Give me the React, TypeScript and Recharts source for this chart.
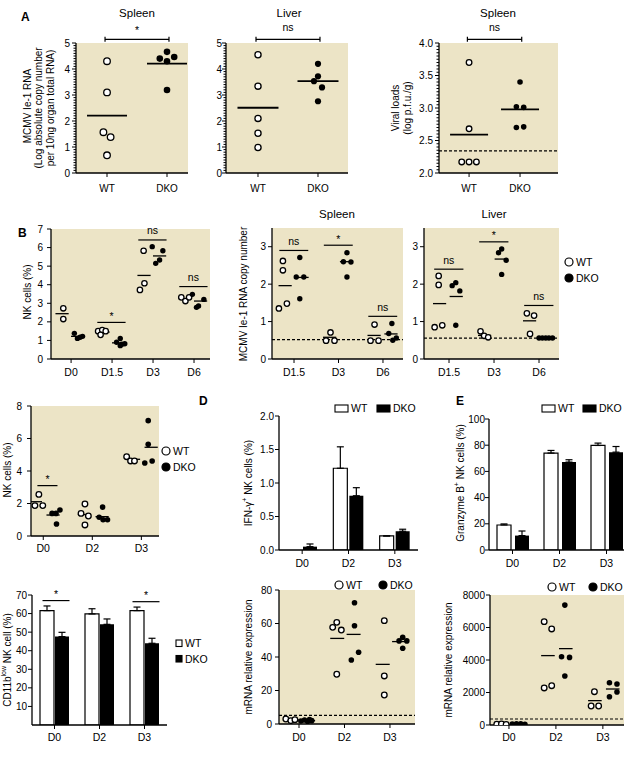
import React from "react";
import {
  ScatterChart,
  Scatter,
  BarChart,
  Bar,
  ErrorBar,
  XAxis,
  YAxis,
  CartesianGrid,
  ReferenceLine,
  ReferenceDot,
} from "recharts";

const FONT = '"Liberation Sans", Arial, Helvetica, sans-serif';
const BEIGE = "#ece4c6";
const INK = "#000";

// ---------- A: ie-1 RNA and viral loads, WT vs DKO ----------
const genotypes = ["WT", "DKO"];

const spleenIe1Wt = [4.3, 3.1, 1.57, 1.38, 0.68];
const spleenIe1WtDx = [0, 0, -0.06, 0.06, 0];
const spleenIe1Dko = [4.66, 4.4, 4.46, 4.3, 3.19];
const spleenIe1DkoDx = [0, -0.12, 0.12, 0, 0];
const spleenIe1Means = [2.21, 4.21];

const liverIe1Wt = [4.55, 3.34, 2.1, 1.53, 0.98];
const liverIe1WtDx = [0, 0, 0, 0, 0];
const liverIe1Dko = [4.2, 3.72, 3.53, 3.29, 2.76];
const liverIe1DkoDx = [0, 0, -0.067, 0.067, 0];
const liverIe1Means = [2.51, 3.53];

const spleenPfuWt = [3.7, 2.68, 2.17, 2.17, 2.17];
const spleenPfuWtDx = [0, 0, -0.144, 0, 0.144];
const spleenPfuDko = [3.4, 3.02, 3.01, 2.7, 2.71];
const spleenPfuDkoDx = [0, -0.072, 0.072, -0.072, 0.072];
const spleenPfuMeans = [2.59, 2.98];
const spleenPfuLimit = 2.34;

// ---------- B: NK cells and ie-1 RNA over time ----------
const nkDays = ["D0", "D1.5", "D3", "D6"];
const nkWt = [[2.73, 2.15], [1.5, 1.56, 1.3, 1.5], [5.83, 4.08, 3.72], [3.32, 3.12, 3.32]];
const nkWtDx = [[-0.19, -0.19], [-0.34, -0.24, -0.28, -0.155], [-0.23, -0.21, -0.32], [-0.31, -0.21, -0.12]];
const nkDko = [[1.38, 1.11, 1.17, 1.22], [1.1, 0.9, 0.72, 0.82, 0.8], [6.05, 5.83, 5.33, 5.15], [3.48, 3.21, 2.85, 2.78]];
const nkDkoDx = [[0.08, 0.155, 0.22, 0.28], [0.2, 0.11, 0.2, 0.31, 0.24], [-0.02, 0.24, 0.16, 0.065], [-0.04, 0.24, 0.11, 0.06]];
const nkWtMean = [2.44, 1.45, 4.5, 3.25];
const nkDkoMean = [1.22, 0.87, 5.55, 3.12];
const nkSigY = [null, 1.97, 6.41, 3.9];
const nkSigText = ["", "*", "ns", "ns"];

const ie1Days = ["D1.5", "D3", "D6"];
const spleenTimeWt = [[2.62, 2.37, 1.48, 1.35], [0.71, 0.49, 0.49], [0.92, 0.49, 0.49]];
const spleenTimeWtDx = [[-0.25, -0.25, -0.16, -0.34], [-0.18, -0.28, -0.09], [-0.19, -0.28, -0.1]];
const spleenTimeDko = [[2.71, 2.19, 2.19, 1.61], [2.84, 2.6, 2.59, 2.19], [0.95, 0.68, 0.5, 0.56]];
const spleenTimeDkoDx = [[0.13, 0.05, 0.22, 0.13], [0.19, 0.11, 0.28, 0.19], [0.2, 0.13, 0.22, 0.3]];
const spleenTimeWtMean = [1.96, 0.58, 0.63];
const spleenTimeDkoMean = [2.18, 2.6, 0.67];
const spleenTimeSigY = [2.9, 3.04, 1.14];
const spleenTimeSigText = ["ns", "*", "ns"];
const spleenTimeLimit = 0.52;

const liverTimeWt = [[2.22, 1.98, 0.9, 0.85], [0.74, 0.62, 0.58], [1.22, 1.16, 0.67]];
const liverTimeWtDx = [[-0.23, -0.23, -0.15, -0.32], [-0.3, -0.22, -0.13], [-0.27, -0.11, -0.2]];
const liverTimeDko = [[2.04, 1.96, 1.82, 0.9], [2.94, 2.84, 2.64, 2.26], [0.56, 0.56, 0.56, 0.56, 0.56]];
const liverTimeDkoDx = [[0.15, 0.07, 0.24, 0.15], [0.17, 0.1, 0.27, 0.17], [0, 0.074, 0.15, 0.22, 0.3]];
const liverTimeWtMean = [1.48, 0.63, 1.02];
const liverTimeDkoMean = [1.67, 2.67, 0.56];
const liverTimeSigY = [2.4, 3.13, 1.43];
const liverTimeSigText = ["ns", "*", "ns"];
const liverTimeLimit = 0.56;

// ---------- C: NK cells and CD11b-low fraction ----------
const days3 = ["D0", "D2", "D3"];
const nk2Wt = [[2.56, 1.87, 1.87], [1.97, 1.39, 1.23, 0.68], [4.88, 4.62, 4.62]];
const nk2WtDx = [[-0.09, -0.17, -0.01], [-0.15, -0.23, -0.08, -0.15], [-0.3, -0.22, -0.14]];
const nk2Dko = [[1.6, 1.39, 1.39, 0.74], [1.78, 1.15, 1.0, 1.0], [7.1, 5.64, 4.49, 4.62]];
const nk2DkoDx = [[0.34, 0.18, 0.26, 0.27], [0.21, 0.14, 0.22, 0.31], [0.14, 0.14, 0.07, 0.22]];
const nk2WtMean = [2.11, 1.32, 4.72];
const nk2DkoMean = [1.29, 1.19, 5.46];
const nk2SigY = [3.1, null, null];
const nk2SigText = ["*", "", ""];

const cd11bWt = [61.6, 59.8, 61.6];
const cd11bWtErr = [2.5, 2.8, 1.9];
const cd11bDko = [47.6, 54.2, 44.0];
const cd11bDkoErr = [2.3, 2.9, 2.7];
const cd11bSigY = [67, null, 66.4];
const cd11bSigText = ["*", "", "*"];

// ---------- D: IFN-gamma ----------
const ifngWt = [0, 1.22, 0.21];
const ifngWtErr = [0, 0.32, 0];
const ifngDko = [0.05, 0.81, 0.28];
const ifngDkoErr = [0.04, 0.12, 0.03];

const ifngMrnaWt = [[2.98, 2.0, 2.6], [57.7, 60.7, 56.1, 29.7], [61.7, 28.7, 17.3]];
const ifngMrnaWtDx = [[-0.29, -0.18, -0.09], [-0.26, -0.17, -0.07, -0.17], [-0.125, -0.125, -0.125]];
const ifngMrnaDko = [[1.8, 2.4, 1.5, 2.0, 2.6], [72.4, 58.7, 42.8, 38.2], [51.7, 49.6, 49.6, 45.2]];
const ifngMrnaDkoDx = [[0.04, 0.12, 0.19, 0.28, 0.23], [0.22, 0.22, 0.31, 0.15], [0.28, 0.2, 0.37, 0.28]];
const ifngMrnaWtMean = [2.5, 51.1, 35.6];
const ifngMrnaDkoMean = [2.0, 53.5, 49.2];
const ifngMrnaLimit = 5.2;

// ---------- E: Granzyme B ----------
const gzmbWt = [19.1, 74, 79.8];
const gzmbWtErr = [0.8, 2, 1.8];
const gzmbDko = [11, 67.1, 74.7];
const gzmbDkoErr = [3.5, 1.8, 4.3];

const gzmbMrnaWt = [[50, 60, 40], [6360, 5910, 2280, 2420], [2050, 1170, 1170]];
const gzmbMrnaWtDx = [[-0.26, -0.16, -0.06], [-0.25, -0.09, -0.25, -0.09], [-0.18, -0.25, -0.09]];
const gzmbMrnaDko = [[60, 80, 70, 50], [7380, 4200, 4160, 3020], [2600, 2520, 1740, 2030]];
const gzmbMrnaDkoDx = [[0.07, 0.16, 0.25, 0.34], [0.19, 0.12, 0.29, 0.19], [0.14, 0.3, 0.14, 0.3]];
const gzmbMrnaWtMean = [50, 4270, 1500];
const gzmbMrnaDkoMean = [65, 4700, 2215];
const gzmbMrnaLimit = 370;

// ---------- helpers ----------
const Y_AXIS_W = 44;
const X_AXIS_H = 28;
const TOP_ROOM = 48;
const RIGHT_ROOM = 8;
const MARGIN = { top: TOP_ROOM, right: RIGHT_ROOM, bottom: 0, left: 0 };

type Plot = { x0: number; x1: number; y0: number; y1: number };
type Pt = { x: number; y: number };
type Bracket = { x0: number; x1: number; y: number; text: string };

const frameStyle = (p: Plot): React.CSSProperties => ({
  position: "absolute",
  left: p.x0 - Y_AXIS_W,
  top: p.y0 - TOP_ROOM,
});
const chartW = (p: Plot) => p.x1 - p.x0 + Y_AXIS_W + RIGHT_ROOM;
const chartH = (p: Plot) => p.y1 - p.y0 + TOP_ROOM + X_AXIS_H;

const range = (lo: number, hi: number, n: number) =>
  Array.from({ length: n + 1 }, (_, i) => lo + ((hi - lo) * i) / n);

function axisTicks(major: number[], minor: number[] = []) {
  const extra = minor.filter((m) => !major.some((v) => Math.abs(v - m) < 1e-6));
  return [...major, ...extra].sort((a, b) => a - b);
}

function yTick(major: number[], fmt: (v: number) => string, gap: number, size: number) {
  return function Tick(props: any) {
    const { x, y, payload } = props;
    const v = payload.value;
    const isMajor = major.some((m) => Math.abs(m - v) < 1e-6);
    return (
      <g>
        <line x1={x - (isMajor ? 4 : 2.5)} x2={x} y1={y} y2={y} stroke={INK} strokeWidth={1} />
        {isMajor && (
          <text x={x - gap} y={y} dy="0.35em" textAnchor="end" fontSize={size} fill={INK}>
            {fmt(v)}
          </text>
        )}
      </g>
    );
  };
}

// each group sits at category index + its own horizontal jitter
function placeGroups(values: number[][], dx: number[][]): Pt[] {
  return values.flatMap((vs, i) => vs.map((v, j) => ({ x: i + 1 + dx[i][j], y: v })));
}
function placeAt(cat: number, values: number[], dx: number[]): Pt[] {
  return values.map((v, j) => ({ x: cat + dx[j], y: v }));
}
function placeMeans(means: number[], shift: number): Pt[] {
  return means.map((m, i) => ({ x: i + 1 + shift, y: m }));
}
function sigBrackets(ys: (number | null)[], texts: string[], span: [number, number]): Bracket[] {
  const out: Bracket[] = [];
  ys.forEach((y, i) => {
    if (y !== null) out.push({ x0: i + 1 + span[0], x1: i + 1 + span[1], y, text: texts[i] });
  });
  return out;
}

const sigOffset = (text: string, base: number) => (text === "*" ? base - 3 : base);

function bracketLines(list: Bracket[], base: number, cap: number) {
  return list.flatMap((b, i) => {
    const els = [
      <ReferenceLine
        key={`br${i}`}
        segment={[{ x: b.x0, y: b.y }, { x: b.x1, y: b.y }]}
        stroke={INK}
        strokeWidth={1.2}
        ifOverflow="visible"
        label={{ value: b.text, position: "top", offset: sigOffset(b.text, base), fontSize: 10.5, fill: INK }}
      />,
    ];
    if (cap > 0) {
      [b.x0, b.x1].forEach((cx, k) =>
        els.push(
          <ReferenceLine
            key={`cap${i}-${k}`}
            segment={[{ x: cx, y: b.y - cap }, { x: cx, y: b.y + cap }]}
            stroke={INK}
            strokeWidth={1.2}
            ifOverflow="visible"
          />
        )
      );
    }
    return els;
  });
}

// bar charts: the bracket hangs off the category centre, spans given in px
const barBracket = (left: number, right: number, text: string) => (p: any) => (
  <g>
    <line x1={p.cx + left} x2={p.cx + right} y1={p.cy} y2={p.cy} stroke={INK} strokeWidth={1.2} />
    <text
      x={p.cx + (left + right) / 2}
      y={p.cy - sigOffset(text, 5.5)}
      textAnchor="middle"
      fontSize={10.5}
      fill={INK}
    >
      {text}
    </text>
  </g>
);

const openDot = (r: number) => (p: any) =>
  <circle cx={p.cx} cy={p.cy} r={r} fill="#fff" stroke={INK} strokeWidth={1.3} />;
const solidDot = (r: number) => (p: any) => <circle cx={p.cx} cy={p.cy} r={r} fill={INK} />;
const meanTick = (half: number, sw: number) => (p: any) =>
  <line x1={p.cx - half} x2={p.cx + half} y1={p.cy} y2={p.cy} stroke={INK} strokeWidth={sw} />;

type DotPanelProps = {
  plot: Plot;
  xDomain: [number, number];
  cats: string[];
  catSize: number;
  xPad: number;
  yDomain: [number, number];
  yMajor: number[];
  yMinor?: number[];
  yFmt?: (v: number) => string;
  yGap: number;
  wt: Pt[];
  dko: Pt[];
  means: Pt[];
  meanHalf: number;
  meanStroke: number;
  r: number;
  brackets: Bracket[];
  labelBase: number;
  cap: number;
  limit?: number;
};

function DotPanel(props: DotPanelProps) {
  const { plot, xDomain, cats, catSize, xPad, yDomain, yMajor, yMinor, yGap } = props;
  const fmt = props.yFmt ?? ((v: number) => String(v));
  return (
    <div style={frameStyle(plot)}>
      <ScatterChart width={chartW(plot)} height={chartH(plot)} margin={MARGIN}>
        <CartesianGrid horizontal={false} vertical={false} fill={BEIGE} fillOpacity={1} stroke="none" />
        <XAxis
          type="number"
          dataKey="x"
          domain={xDomain}
          allowDataOverflow
          ticks={cats.map((_, i) => i + 1)}
          tickFormatter={(v: number) => cats[Math.round(v) - 1]}
          interval={0}
          height={X_AXIS_H}
          stroke={INK}
          tickSize={4}
          tickMargin={xPad}
          tick={{ fill: INK, fontSize: catSize }}
          axisLine={{ stroke: INK, strokeWidth: 1.3 }}
        />
        <YAxis
          type="number"
          dataKey="y"
          domain={yDomain}
          allowDataOverflow
          ticks={axisTicks(yMajor, yMinor)}
          interval={0}
          width={Y_AXIS_W}
          tickSize={0}
          tickMargin={0}
          tickLine={false}
          tick={yTick(yMajor, fmt, yGap, 10)}
          axisLine={{ stroke: INK, strokeWidth: 1.3 }}
        />
        {props.limit !== undefined && (
          <ReferenceLine y={props.limit} stroke={INK} strokeDasharray="3 2" strokeWidth={1.2} />
        )}
        {bracketLines(props.brackets, props.labelBase, props.cap)}
        <Scatter data={props.means} shape={meanTick(props.meanHalf, props.meanStroke)} isAnimationActive={false} />
        <Scatter data={props.wt} shape={openDot(props.r)} isAnimationActive={false} />
        <Scatter data={props.dko} shape={solidDot(props.r)} isAnimationActive={false} />
      </ScatterChart>
    </div>
  );
}

type BarPanelProps = {
  plot: Plot;
  cats: string[];
  wt: number[];
  wtErr: number[];
  dko: number[];
  dkoErr: number[];
  yDomain: [number, number];
  yMajor: number[];
  yFmt?: (v: number) => string;
  yGap: number;
  barGap: number;
  xPad: number;
  sigY?: (number | null)[];
  sigText?: string[];
};

function BarPanel(props: BarPanelProps) {
  const { plot, cats, yDomain, yMajor, yGap } = props;
  const fmt = props.yFmt ?? ((v: number) => String(v));
  const rows = cats.map((day, i) => ({
    day,
    wt: props.wt[i],
    wtErr: [0, props.wtErr[i]],
    dko: props.dko[i],
    dkoErr: [0, props.dkoErr[i]],
  }));
  const sigY = props.sigY ?? [];
  return (
    <div style={frameStyle(plot)}>
      <BarChart
        width={chartW(plot)}
        height={chartH(plot)}
        margin={MARGIN}
        data={rows}
        barSize={14}
        barGap={props.barGap}
      >
        <XAxis
          dataKey="day"
          height={X_AXIS_H}
          stroke={INK}
          tickSize={4}
          tickMargin={props.xPad}
          interval={0}
          tick={{ fill: INK, fontSize: 10.5 }}
          axisLine={{ stroke: INK, strokeWidth: 1.3 }}
        />
        <YAxis
          type="number"
          domain={yDomain}
          allowDataOverflow
          ticks={yMajor}
          interval={0}
          width={Y_AXIS_W}
          tickSize={0}
          tickMargin={0}
          tickLine={false}
          tick={yTick(yMajor, fmt, yGap, 10)}
          axisLine={{ stroke: INK, strokeWidth: 1.3 }}
        />
        <Bar dataKey="wt" fill="#fff" stroke={INK} strokeWidth={1.2} isAnimationActive={false}>
          <ErrorBar dataKey="wtErr" direction="y" width={3.5} stroke={INK} strokeWidth={1.2} />
        </Bar>
        <Bar dataKey="dko" fill={INK} isAnimationActive={false}>
          <ErrorBar dataKey="dkoErr" direction="y" width={3.5} stroke={INK} strokeWidth={1.2} />
        </Bar>
        {sigY.map((y, i) =>
          y === null ? null : (
            <ReferenceDot
              key={`sig${i}`}
              x={cats[i]}
              y={y}
              ifOverflow="visible"
              shape={barBracket(-12, 15, (props.sigText ?? [])[i])}
            />
          )
        )}
      </BarChart>
    </div>
  );
}

// ---------- static text: titles, axis titles, legends ----------
const VText = ({ x, y, children, size = 10 }: { x: number; y: number; children: React.ReactNode; size?: number }) => (
  <text
    transform={`translate(${x},${y}) rotate(-90)`}
    textAnchor="middle"
    dominantBaseline="central"
    fontSize={size}
    fill={INK}
  >
    {children}
  </text>
);

const Title = ({ x, y, children }: { x: number; y: number; children: React.ReactNode }) => (
  <text x={x} y={y} textAnchor="middle" fontSize={11.5} fill={INK}>
    {children}
  </text>
);

const Letter = ({ x, y, children }: { x: number; y: number; children: React.ReactNode }) => (
  <text x={x} y={y} fontSize={12} fontWeight="bold" fill={INK}>
    {children}
  </text>
);

function DotKey({ x, y, filled, label }: { x: number; y: number; filled: boolean; label: string }) {
  return (
    <g>
      <circle cx={x} cy={y} r={4} fill={filled ? INK : "#fff"} stroke={INK} strokeWidth={1.2} />
      <text x={x + 7} y={y + 3.8} fontSize={10.5} fill={INK}>
        {label}
      </text>
    </g>
  );
}

function BoxKey({ x, y, w, h, filled, label }: { x: number; y: number; w: number; h: number; filled: boolean; label: string }) {
  return (
    <g>
      <rect x={x} y={y} width={w} height={h} fill={filled ? INK : "#fff"} stroke={INK} strokeWidth={1.1} />
      <text x={x + w + 3} y={y + h / 2 + 3.8} fontSize={10.5} fill={INK}>
        {label}
      </text>
    </g>
  );
}

function Overlay() {
  const sup = (s: string) => (
    <tspan baselineShift="super" fontSize={7}>
      {s}
    </tspan>
  );
  return (
    <svg width={624} height={759} style={{ position: "absolute", left: 0, top: 0, pointerEvents: "none" }}>
      <Letter x={21} y={21}>A</Letter>
      <Letter x={18} y={237}>B</Letter>
      <Letter x={199} y={405}>D</Letter>
      <Letter x={456} y={405}>E</Letter>

      <Title x={137} y={17}>Spleen</Title>
      <Title x={289} y={17}>Liver</Title>
      <Title x={498} y={17}>Spleen</Title>
      <Title x={337} y={218}>Spleen</Title>
      <Title x={494} y={218}>Liver</Title>

      <VText x={27} y={106}>MCMV Ie-1 RNA</VText>
      <VText x={38.5} y={108}>(Log absolute copy number</VText>
      <VText x={50} y={108}>per 10ng organ total RNA)</VText>
      <VText x={395} y={108}>Viral loads</VText>
      <VText x={407} y={108}>(log p.f.u./g)</VText>
      <VText x={27} y={292}>NK cells (%)</VText>
      <VText x={243} y={294}>MCMV Ie-1 RNA copy number</VText>
      <VText x={7} y={470}>NK cells (%)</VText>
      <VText x={7} y={660}>
        CD11b{sup("low")} NK cell (%)
      </VText>
      <VText x={248} y={483}>
        IFN-γ{sup("+")} NK cells (%)
      </VText>
      <VText x={248} y={657}>mRNA relative expression</VText>
      <VText x={460} y={483}>
        Granzyme B{sup("+")} NK cells (%)
      </VText>
      <VText x={448} y={660}>mRNA relative expression</VText>

      <DotKey x={569} y={262} filled={false} label="WT" />
      <DotKey x={569} y={278} filled label="DKO" />
      <DotKey x={166} y={451} filled={false} label="WT" />
      <DotKey x={166} y={467} filled label="DKO" />
      <BoxKey x={176} y={640} w={6} h={6.5} filled={false} label="WT" />
      <BoxKey x={176} y={655.5} w={6} h={6.5} filled label="DKO" />
      <BoxKey x={335} y={405} w={13} h={7} filled={false} label="WT" />
      <BoxKey x={377} y={405} w={13} h={7} filled label="DKO" />
      <BoxKey x={542} y={405} w={13} h={7} filled={false} label="WT" />
      <BoxKey x={583} y={405} w={13} h={7} filled label="DKO" />
      <DotKey x={339} y={585} filled={false} label="WT" />
      <DotKey x={383} y={585} filled label="DKO" />
      <DotKey x={552} y={587} filled={false} label="WT" />
      <DotKey x={593} y={587} filled label="DKO" />
    </svg>
  );
}

const oneDecimal = (v: number) => v.toFixed(1);
const aCap = (span: number) => (2.5 * span) / 130;

export default function App() {
  return (
    <div
      style={{
        position: "absolute",
        left: 0,
        top: 0,
        width: 624,
        height: 759,
        overflow: "hidden",
        background: "#fff",
        fontFamily: FONT,
      }}
    >
      {/* A */}
      <DotPanel
        plot={{ x0: 76, x1: 188, y0: 43, y1: 173 }}
        xDomain={[0.483, 2.35]}
        cats={genotypes}
        catSize={10}
        xPad={8}
        yDomain={[0, 5]}
        yMajor={range(0, 5, 5)}
        yMinor={range(0, 5, 50)}
        yGap={6}
        wt={placeAt(1, spleenIe1Wt, spleenIe1WtDx)}
        dko={placeAt(2, spleenIe1Dko, spleenIe1DkoDx)}
        means={placeMeans(spleenIe1Means, 0)}
        meanHalf={20}
        meanStroke={1.8}
        r={3.3}
        brackets={[{ x0: 0.967, x1: 2.033, y: 5.14, text: "*" }]}
        labelBase={8}
        cap={aCap(5)}
      />
      <DotPanel
        plot={{ x0: 226, x1: 348, y0: 43, y1: 173 }}
        xDomain={[0.467, 2.5]}
        cats={genotypes}
        catSize={10}
        xPad={8}
        yDomain={[0, 5]}
        yMajor={range(0, 5, 5)}
        yMinor={range(0, 5, 50)}
        yGap={4}
        wt={placeAt(1, liverIe1Wt, liverIe1WtDx)}
        dko={placeAt(2, liverIe1Dko, liverIe1DkoDx)}
        means={placeMeans(liverIe1Means, 0)}
        meanHalf={20.5}
        meanStroke={1.8}
        r={3.1}
        brackets={[{ x0: 0.967, x1: 2.033, y: 5.14, text: "ns" }]}
        labelBase={8}
        cap={aCap(5)}
      />
      <DotPanel
        plot={{ x0: 439, x1: 558, y0: 43, y1: 173 }}
        xDomain={[0.41, 2.745]}
        cats={genotypes}
        catSize={10}
        xPad={8}
        yDomain={[2, 4]}
        yMajor={range(2, 4, 4)}
        yMinor={range(2, 4, 40)}
        yFmt={oneDecimal}
        yGap={6}
        wt={placeAt(1, spleenPfuWt, spleenPfuWtDx)}
        dko={placeAt(2, spleenPfuDko, spleenPfuDkoDx)}
        means={placeMeans(spleenPfuMeans, 0)}
        meanHalf={19}
        meanStroke={1.8}
        r={2.8}
        brackets={[{ x0: 0.967, x1: 2.033, y: 4.056, text: "ns" }]}
        labelBase={8}
        cap={aCap(2)}
        limit={spleenPfuLimit}
      />

      {/* B */}
      <DotPanel
        plot={{ x0: 51, x1: 210, y0: 229, y1: 359 }}
        xDomain={[0.51, 4.39]}
        cats={nkDays}
        catSize={10.5}
        xPad={6}
        yDomain={[0, 7]}
        yMajor={range(0, 7, 7)}
        yGap={8}
        wt={placeGroups(nkWt, nkWtDx)}
        dko={placeGroups(nkDko, nkDkoDx)}
        means={[...placeMeans(nkWtMean, -0.22), ...placeMeans(nkDkoMean, 0.16)]}
        meanHalf={6.6}
        meanStroke={1.3}
        r={2.7}
        brackets={sigBrackets(nkSigY, nkSigText, [-0.36, 0.33])}
        labelBase={5.5}
        cap={0}
      />
      <DotPanel
        plot={{ x0: 272, x1: 403, y0: 228, y1: 359 }}
        xDomain={[0.505, 3.45]}
        cats={ie1Days}
        catSize={10.5}
        xPad={6}
        yDomain={[0, 3.5]}
        yMajor={range(0, 3, 3)}
        yGap={6}
        wt={placeGroups(spleenTimeWt, spleenTimeWtDx)}
        dko={placeGroups(spleenTimeDko, spleenTimeDkoDx)}
        means={[...placeMeans(spleenTimeWtMean, -0.2), ...placeMeans(spleenTimeDkoMean, 0.18)]}
        meanHalf={6.6}
        meanStroke={1.3}
        r={2.7}
        brackets={sigBrackets(spleenTimeSigY, spleenTimeSigText, [-0.33, 0.32])}
        labelBase={5.5}
        cap={0}
        limit={spleenTimeLimit}
      />
      <DotPanel
        plot={{ x0: 424, x1: 559, y0: 228, y1: 359 }}
        xDomain={[0.444, 3.444]}
        cats={ie1Days}
        catSize={10.5}
        xPad={6}
        yDomain={[0, 3.5]}
        yMajor={range(0, 3, 3)}
        yGap={6}
        wt={placeGroups(liverTimeWt, liverTimeWtDx)}
        dko={placeGroups(liverTimeDko, liverTimeDkoDx)}
        means={[...placeMeans(liverTimeWtMean, -0.21), ...placeMeans(liverTimeDkoMean, 0.16)]}
        meanHalf={6.6}
        meanStroke={1.3}
        r={2.7}
        brackets={sigBrackets(liverTimeSigY, liverTimeSigText, [-0.33, 0.32])}
        labelBase={5.5}
        cap={0}
        limit={liverTimeLimit}
      />

      {/* C */}
      <DotPanel
        plot={{ x0: 31, x1: 159, y0: 406, y1: 536 }}
        xDomain={[0.75, 3.36]}
        cats={days3}
        catSize={10.5}
        xPad={5}
        yDomain={[0, 8]}
        yMajor={range(0, 8, 4)}
        yGap={9}
        wt={placeGroups(nk2Wt, nk2WtDx)}
        dko={placeGroups(nk2Dko, nk2DkoDx)}
        means={[...placeMeans(nk2WtMean, -0.16), ...placeMeans(nk2DkoMean, 0.2)]}
        meanHalf={6.6}
        meanStroke={1.3}
        r={2.8}
        brackets={sigBrackets(nk2SigY, nk2SigText, [-0.12, 0.29])}
        labelBase={5.5}
        cap={0}
      />
      <BarPanel
        plot={{ x0: 32, x1: 167, y0: 595, y1: 725 }}
        cats={days3}
        wt={cd11bWt}
        wtErr={cd11bWtErr}
        dko={cd11bDko}
        dkoErr={cd11bDkoErr}
        yDomain={[0, 70]}
        yMajor={range(10, 70, 6)}
        yGap={5}
        barGap={1}
        xPad={5}
        sigY={cd11bSigY}
        sigText={cd11bSigText}
      />

      {/* D */}
      <BarPanel
        plot={{ x0: 279, x1: 418, y0: 416, y1: 550 }}
        cats={days3}
        wt={ifngWt}
        wtErr={ifngWtErr}
        dko={ifngDko}
        dkoErr={ifngDkoErr}
        yDomain={[0, 2]}
        yMajor={range(0, 2, 4)}
        yFmt={oneDecimal}
        yGap={5}
        barGap={2}
        xPad={6}
      />
      <DotPanel
        plot={{ x0: 279, x1: 415, y0: 590, y1: 724 }}
        xDomain={[0.56, 3.55]}
        cats={days3}
        catSize={10.5}
        xPad={6}
        yDomain={[0, 80]}
        yMajor={range(0, 80, 4)}
        yGap={7}
        wt={placeGroups(ifngMrnaWt, ifngMrnaWtDx)}
        dko={placeGroups(ifngMrnaDko, ifngMrnaDkoDx)}
        means={[...placeMeans(ifngMrnaWtMean, -0.16), ...placeMeans(ifngMrnaDkoMean, 0.2)]}
        meanHalf={7}
        meanStroke={1.3}
        r={2.8}
        brackets={[]}
        labelBase={5.5}
        cap={0}
        limit={ifngMrnaLimit}
      />

      {/* E */}
      <BarPanel
        plot={{ x0: 489, x1: 630, y0: 419, y1: 550 }}
        cats={days3}
        wt={gzmbWt}
        wtErr={gzmbWtErr}
        dko={gzmbDko}
        dkoErr={gzmbDkoErr}
        yDomain={[0, 100]}
        yMajor={range(0, 100, 5)}
        yGap={4}
        barGap={4}
        xPad={6}
      />
      <DotPanel
        plot={{ x0: 490, x1: 624, y0: 595, y1: 725 }}
        xDomain={[0.596, 3.45]}
        cats={days3}
        catSize={10.5}
        xPad={5}
        yDomain={[0, 8000]}
        yMajor={range(0, 8000, 4)}
        yGap={5}
        wt={placeGroups(gzmbMrnaWt, gzmbMrnaWtDx)}
        dko={placeGroups(gzmbMrnaDko, gzmbMrnaDkoDx)}
        means={[...placeMeans(gzmbMrnaWtMean, -0.17), ...placeMeans(gzmbMrnaDkoMean, 0.21)]}
        meanHalf={6.8}
        meanStroke={1.3}
        r={2.8}
        brackets={[]}
        labelBase={5.5}
        cap={0}
        limit={gzmbMrnaLimit}
      />

      <Overlay />
    </div>
  );
}
